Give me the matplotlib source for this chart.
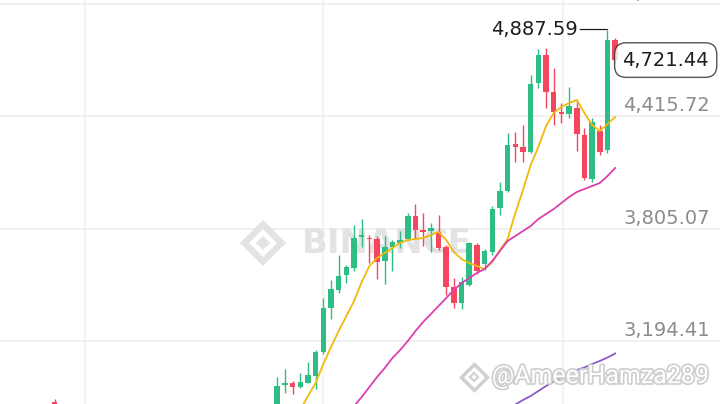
import matplotlib.pyplot as plt
import numpy as np
from matplotlib import patheffects as pe

# candle data (index 0 = first fully visible candle)
candle_idx = [-29] + list(range(45))
opens = [2862.2, 2764.3, 2954.7, 2963.9, 2945.4, 2967.1, 3003.6, 3135.7, 3371.7, 3473.9,
         3552.8, 3589.2, 3761.0, 3755.6, 3746.9, 3630.5, 3706.6, 3728.4, 3751.2, 3873.6,
         3797.5, 3794.7, 3783.9, 3705.0, 3489.1, 3403.2, 3498.4, 3715.9, 3612.6, 3677.8,
         3915.4, 4009.5, 4263.5, 4250.4, 4223.2, 4595.1, 4749.0, 4549.5, 4440.7, 4426.6,
         4459.2, 4314.0, 4074.8, 4335.8, 4232.5, 4830.6]
highs = [2878.5, 2998.1, 3038.9, 2978.0, 3018.2, 3079.7, 3144.9, 3425.0, 3522.9, 3661.5,
         3607.1, 3824.6, 3855.6, 3770.3, 3764.8, 3764.8, 3745.2, 3792.0, 3887.2, 3938.8,
         3887.2, 3833.9, 3879.0, 3715.9, 3534.8, 3541.9, 3733.8, 3725.1, 3694.1, 3928.0,
         4060.1, 4323.3, 4332.0, 4368.4, 4640.3, 4781.7, 4785.5, 4676.7, 4486.4, 4576.7,
         4504.3, 4353.7, 4404.8, 4368.4, 4887.59, 4838.8]
lows = [2709.9, 2709.9, 2911.1, 2905.7, 2938.3, 2963.9, 2932.9, 3125.9, 3313.5, 3456.5,
        3509.3, 3576.1, 3706.6, 3619.6, 3529.4, 3503.8, 3576.1, 3697.9, 3743.1, 3748.5,
        3710.5, 3679.5, 3688.7, 3444.0, 3376.0, 3365.2, 3492.9, 3558.2, 3579.9, 3661.5,
        3879.0, 4005.7, 4168.8, 4168.8, 4214.5, 4571.2, 4459.2, 4368.4, 4377.6, 4408.1,
        4227.0, 4069.3, 4060.1, 4205.3, 4214.5, 4705.5]
closes = [2764.3, 2949.2, 2963.9, 2945.4, 2970.9, 3011.7, 3135.7, 3371.7, 3475.0, 3544.6,
          3594.6, 3755.6, 3770.3, 3746.9, 3625.1, 3706.6, 3731.1, 3743.1, 3873.6, 3799.1,
          3788.2, 3806.7, 3697.9, 3489.1, 3403.2, 3516.3, 3725.1, 3571.8, 3683.3, 3911.6,
          4009.5, 4259.6, 4250.4, 4223.2, 4589.7, 4749.0, 4549.5, 4440.7, 4426.6, 4473.3,
          4317.8, 4078.6, 4386.3, 4223.2, 4830.6, 4721.44]

# moving averages
ma7_idx = list(range(3, 45))
ma7 = [2818.7, 2894.8, 2965.5, 3068.8, 3161.3, 3248.3, 3329.8, 3411.4, 3514.7, 3601.7,
       3645.2, 3672.4, 3699.6, 3726.8, 3743.1, 3748.5, 3754.0, 3770.3, 3786.6, 3743.1,
       3677.8, 3639.8, 3618.0, 3601.7, 3585.4, 3623.4, 3688.7, 3748.5, 3889.9, 4015.0,
       4150.9, 4248.8, 4363.0, 4433.6, 4466.3, 4488.0, 4504.3, 4433.6, 4368.4, 4335.8,
       4373.8, 4411.9]
ma25_idx = list(range(10, 45))
ma25 = [2840.4, 2889.4, 2943.7, 2998.1, 3047.1, 3101.4, 3144.9, 3193.9, 3248.3, 3297.2,
        3340.7, 3384.2, 3427.7, 3471.2, 3509.3, 3536.4, 3563.6, 3585.4, 3628.9, 3683.3,
        3737.6, 3764.8, 3792.0, 3819.2, 3857.3, 3884.5, 3911.6, 3944.3, 3976.9, 4004.1,
        4020.4, 4036.7, 4053.0, 4091.1, 4134.6]
ma99_idx = list(range(31, 45))
ma99 = [2848.6, 2873.1, 2894.8, 2922.0, 2949.2, 2973.7, 2992.7, 3017.2, 3036.2, 3049.8,
        3068.8, 3085.1, 3104.2, 3125.9]

grid_prices = [5026.38, 4415.72, 3805.07, 3194.41]
vgrid_x = [-25.0, 5.95, 37.2]
high_label = 4887.59
high_idx = 43
last_price = 4721.44

GREEN = '#2ebd85'
RED = '#f6465d'

fig = plt.figure(figsize=(7.2, 4.04), dpi=100)
ax = fig.add_axes([0, 0, 1, 1])
ax.set_xlim(-36.1, 57.65)
ax.set_ylim(2851.3, 5048.1)
ax.axis('off')

# grid
for p in grid_prices:
    ax.axhline(p, color='#ececec', lw=1.1, zorder=0)
for x in vgrid_x:
    ax.axvline(x, color='#f0f0f0', lw=1.1, zorder=0)

# watermark
ax.text(0.5375, 0.398, 'BINANCE', transform=ax.transAxes, ha='center', va='center',
        fontsize=24.5, fontweight='bold', color='#e3e3e3', zorder=1)
for s, c in [(23, '#e3e3e3'), (14, 'white'), (7, '#e3e3e3')]:
    ax.plot(0.3657, 0.3985, marker='D', ms=s, color=c, mew=0, transform=ax.transAxes, zorder=1)

# candles
o = np.array(opens); c = np.array(closes)
colors = [GREEN if cc >= oo else RED for oo, cc in zip(o, c)]
ax.vlines(candle_idx, lows, highs, colors=colors, lw=1.0, zorder=2)
bottoms = np.minimum(o, c)
heights = np.maximum(np.abs(c - o), 7)
ax.bar(candle_idx, heights, bottom=bottoms, width=0.72, color=colors, zorder=3)

# moving averages
ax.plot(ma7_idx, ma7, color='#f0b90b', lw=1.3, zorder=4)
ax.plot(ma25_idx, ma25, color='#dc3fb2', lw=1.3, zorder=4)
ax.plot(ma99_idx, ma99, color='#8a5cc7', lw=1.3, zorder=4)

# price labels
for p in grid_prices:
    ax.annotate(f'{p:,.2f}', xy=(0.986, p), xycoords=('axes fraction', 'data'),
                xytext=(0, 10.5), textcoords='offset pixels', ha='right', va='center',
                fontsize=14, color='#8c8c8c', zorder=5)

ax.annotate(f'{high_label:,.2f}', xy=(high_idx, high_label), xytext=(-30, 0),
            textcoords='offset pixels', ha='right', va='center', fontsize=14, color='#1e1e1e',
            arrowprops=dict(arrowstyle='-', color='#1e1e1e', lw=0.9, shrinkA=0, shrinkB=0,
                            relpos=(1, 0.5)), zorder=5)

ax.annotate(f'{last_price:,.2f}', xy=(0.9847, last_price), xycoords=('axes fraction', 'data'),
            ha='right', va='center', fontsize=14, color='#1e1e1e', zorder=6,
            bbox=dict(boxstyle='round,pad=0.4,rounding_size=0.6', fc='white', ec='#2a2a2a',
                      lw=1, alpha=0.8))

# user watermark
ax.plot(0.658, 0.066, marker='D', ms=13, mfc='white', mec='#d0d0d0', mew=2.5,
        transform=ax.transAxes, zorder=6)
ax.plot(0.658, 0.066, marker='D', ms=4, mfc='white', mec='#d0d0d0', mew=1.5,
        transform=ax.transAxes, zorder=6)
ax.text(0.683, 0.069, '@AmeerHamza289', transform=ax.transAxes, ha='left', va='center',
        fontsize=18, family='Roboto', color='white', zorder=6,
        path_effects=[pe.withStroke(linewidth=2.5, foreground='#cfcfcf')])

fig.savefig('out.png', dpi=100)
